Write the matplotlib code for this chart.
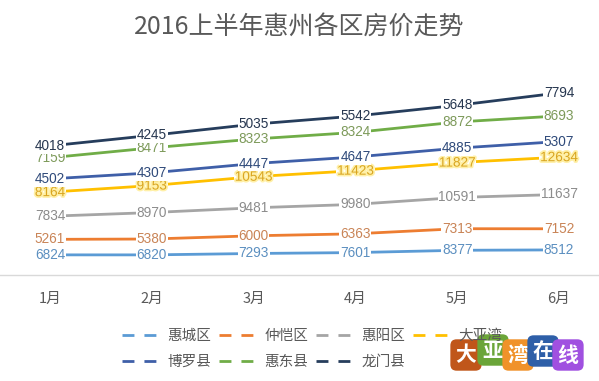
import matplotlib
matplotlib.use("Agg")
import matplotlib.pyplot as plt
import matplotlib.patheffects as pe
from matplotlib.lines import Line2D
import numpy as np

plt.rcParams['font.family'] = ['Noto Sans CJK SC', 'DejaVu Sans']

# data (stacked line chart, as in the original Excel chart)
months = ['1月', '2月', '3月', '4月', '5月', '6月']
districts = ['惠城区', '仲恺区', '惠阳区', '大亚湾', '博罗县', '惠东县', '龙门县']
huicheng = [6824, 6820, 7293, 7601, 8377, 8512]
zhongkai = [5261, 5380, 6000, 6363, 7313, 7152]
huiyang = [7834, 8970, 9481, 9980, 10591, 11637]
dayawan = [8164, 9153, 10543, 11423, 11827, 12634]
boluo = [4502, 4307, 4447, 4647, 4885, 5307]
huidong = [7159, 8471, 8323, 8324, 8872, 8693]
longmen = [4018, 4245, 5035, 5542, 5648, 7794]

line_colors = ['#5B9BD5', '#ED7D31', '#A5A5A5', '#FFC000', '#3F5FA8', '#70AD47', '#263D5C']
label_colors = ['#5B8FC0', '#C98456', '#8C8C8C', '#D9A520', '#2F4A7A', '#7D9A5A', '#26364F']

series = np.array([huicheng, zhongkai, huiyang, dayawan, boluo, huidong, longmen])
stacked = np.cumsum(series, axis=0)

fig = plt.figure(figsize=(5.99, 3.81), dpi=100)
ax = fig.add_axes([0, 106 / 381, 1, 206.5 / 381])
x = np.arange(len(months))

for i in range(len(districts)):
    ax.plot(x, stacked[i], color=line_colors[i], lw=2, zorder=2, solid_capstyle='butt')
    for j in range(len(months)):
        t = ax.text(x[j], stacked[i][j], str(series[i][j]), ha='center', va='center',
                    fontsize=9.8, family='Liberation Sans', color=label_colors[i], zorder=3,
                    bbox=dict(facecolor='white', edgecolor='none', pad=0.6))
        if districts[i] == '大亚湾':
            t.set_path_effects([pe.withStroke(linewidth=2.5, foreground='#FFF0A8')])

ax.set_xlim(-50 / 101.8, 549 / 101.8)
ax.set_ylim(0, 70000)
ax.set_xticks(x)
ax.set_xticklabels(months, fontsize=10.5, color='#595959')
ax.tick_params(axis='x', length=0, pad=12)
ax.set_yticks([])
for s in ['top', 'right', 'left']:
    ax.spines[s].set_visible(False)
ax.spines['bottom'].set_color('#D9D9D9')
ax.spines['bottom'].set_linewidth(1)

fig.text(0.5, 1 - 28 / 381, '2016上半年惠州各区房价走势', ha='center', va='center',
         fontsize=18, color='#595959')

# legend, row-major like Excel
order = [0, 4, 1, 5, 2, 6, 3]
handles = [Line2D([], [], color=line_colors[k], lw=2, linestyle=(0, (4.3, 3.6))) for k in order]
labels = [districts[k] for k in order]
fig.legend(handles, labels, ncol=4, loc='center', bbox_to_anchor=(312 / 599, 1 - 349 / 381),
           frameon=False, fontsize=10.5, handlelength=2.4, handletextpad=0.7,
           columnspacing=0.55, labelspacing=0.8, labelcolor='#595959')

# watermark logo
logo_chars = ['大', '亚', '湾', '在', '线']
logo_colors = ['#C0561A', '#6BA539', '#F0922A', '#2E5FA8', '#A050E0']
logo_x = [466, 493, 518, 543, 568]
logo_y = [355, 350, 355, 351, 355]
for ch, c, lx, ly in zip(logo_chars, logo_colors, logo_x, logo_y):
    fig.text(lx / 599, 1 - ly / 381, ch, ha='center', va='center', fontsize=15,
             fontweight='bold', color='white',
             bbox=dict(boxstyle='round,pad=0.25,rounding_size=0.3', facecolor=c, edgecolor='none'))

fig.savefig('out.png', dpi=100)
